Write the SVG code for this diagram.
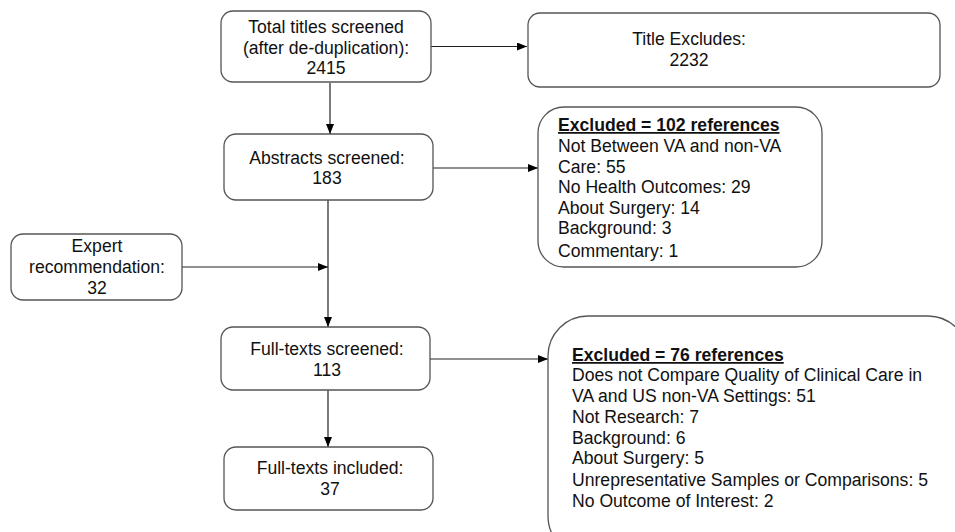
<svg xmlns="http://www.w3.org/2000/svg" width="955" height="532" viewBox="0 0 955 532">
<defs>
<marker id="ah" markerWidth="10" markerHeight="8" refX="10" refY="4" orient="auto" markerUnits="userSpaceOnUse">
<path d="M0,0 L10,4 L0,8 Z" fill="#000"/>
</marker>
<style>
.box{fill:#fff;stroke:#555;stroke-width:1.3}
.t{font-family:"Liberation Sans",Arial,sans-serif;font-size:17.6px;fill:#111}
.c{text-anchor:middle}
.b{font-weight:bold;text-decoration:underline}
.ln{stroke:#222;stroke-width:1.2;fill:none}
</style>
</defs>
<rect width="955" height="532" fill="#fff"/>
<g id="connectors">
<line class="ln" x1="431" y1="46.5" x2="527" y2="46.5" marker-end="url(#ah)"/>
<line class="ln" x1="330" y1="83" x2="330" y2="134" marker-end="url(#ah)"/>
<line class="ln" x1="433" y1="168" x2="538" y2="168" marker-end="url(#ah)"/>
<line class="ln" x1="182" y1="267" x2="328" y2="267" marker-end="url(#ah)"/>
<line class="ln" x1="328" y1="200" x2="328" y2="327" marker-end="url(#ah)"/>
<line class="ln" x1="430" y1="359" x2="548" y2="359" marker-end="url(#ah)"/>
<line class="ln" x1="328" y1="390" x2="328" y2="447" marker-end="url(#ah)"/>
</g>
<g id="n-total">
<rect class="box" x="221" y="11" width="210" height="71" rx="12"/>
<text class="t c" x="326" y="33">Total titles screened</text>
<text class="t c" x="326" y="54">(after de-duplication):</text>
<text class="t c" x="326" y="74">2415</text>
</g>
<g id="n-title-excl">
<rect class="box" x="528" y="13" width="412" height="74" rx="12"/>
<text class="t c" x="689" y="45">Title Excludes:</text>
<text class="t c" x="689" y="66">2232</text>
</g>
<g id="n-abstracts">
<rect class="box" x="224" y="134" width="209" height="66" rx="12"/>
<text class="t c" x="327" y="164">Abstracts screened:</text>
<text class="t c" x="327" y="184">183</text>
</g>
<g id="n-excl102">
<rect class="box" x="538" y="107" width="284" height="160" rx="26"/>
<text class="t b" x="558" y="131">Excluded = 102 references</text>
<text class="t" x="558" y="152">Not Between VA and non-VA</text>
<text class="t" x="558" y="173">Care: 55</text>
<text class="t" x="558" y="193">No Health Outcomes: 29</text>
<text class="t" x="558" y="214">About Surgery: 14</text>
<text class="t" x="558" y="234">Background: 3</text>
<text class="t" x="558" y="257">Commentary: 1</text>
</g>
<g id="n-expert">
<rect class="box" x="11" y="234" width="171" height="66" rx="12"/>
<text class="t c" x="97" y="252">Expert</text>
<text class="t c" x="97" y="273">recommendation:</text>
<text class="t c" x="97" y="294">32</text>
</g>
<g id="n-ft-screened">
<rect class="box" x="221" y="327" width="209" height="63" rx="12"/>
<text class="t c" x="327" y="355">Full-texts screened:</text>
<text class="t c" x="327" y="376">113</text>
</g>
<g id="n-ft-included">
<rect class="box" x="224" y="447" width="209" height="63" rx="12"/>
<text class="t c" x="330" y="474">Full-texts included:</text>
<text class="t c" x="330" y="495">37</text>
</g>
<g id="n-excl76">
<rect class="box" x="548" y="316" width="420" height="240" rx="40"/>
<text class="t b" x="572" y="361">Excluded = 76 references</text>
<text class="t" x="572" y="381">Does not Compare Quality of Clinical Care in</text>
<text class="t" x="572" y="402">VA and US non-VA Settings: 51</text>
<text class="t" x="572" y="423">Not Research: 7</text>
<text class="t" x="572" y="444">Background: 6</text>
<text class="t" x="572" y="464">About Surgery: 5</text>
<text class="t" x="572" y="486">Unrepresentative Samples or Comparisons: 5</text>
<text class="t" x="572" y="507">No Outcome of Interest: 2</text>
</g>
</svg>
